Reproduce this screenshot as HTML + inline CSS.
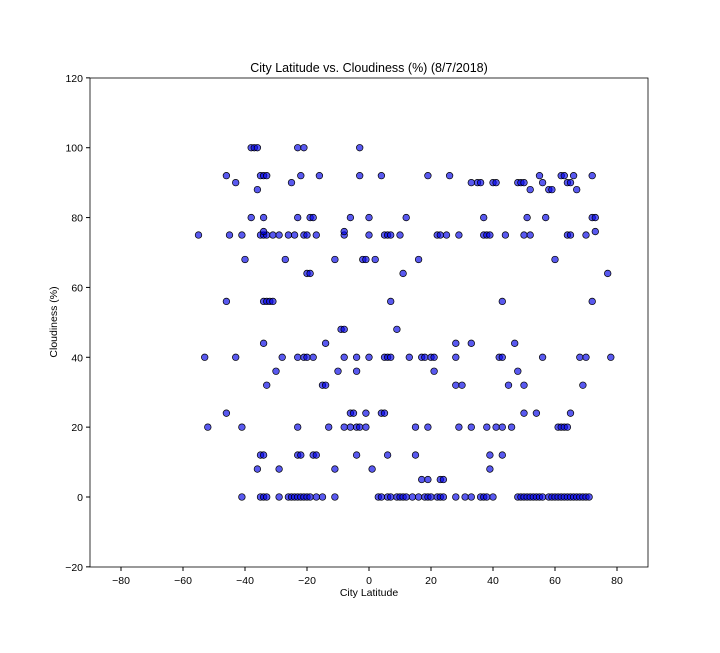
<!DOCTYPE html>
<html><head><meta charset="utf-8"><style>
body{margin:0;background:#fff;font-family:"Liberation Sans",sans-serif}
</style></head><body>
<svg id="chart" width="720" height="648" xmlns="http://www.w3.org/2000/svg" font-family="Liberation Sans, sans-serif">
<rect width="720" height="648" fill="#fff"/>
<text x="369" y="72" text-anchor="middle" font-size="12.5">City Latitude vs. Cloudiness (%) (8/7/2018)</text>
<g id="xt"></g>
<g id="yt"></g>
<g id="pts"></g>
<rect x="90" y="78" width="558" height="489" fill="none" stroke="#000" stroke-width="0.8"/>
<text x="369" y="596" text-anchor="middle" font-size="10.5">City Latitude</text>
<text transform="translate(57,322) rotate(-90)" text-anchor="middle" font-size="10.5">Cloudiness (%)</text>
</svg>
<script>
const xTicks=[-80,-60,-40,-20,0,20,40,60,80];
const yTicks=[-20,0,20,40,60,80,100,120];
const rows=[
[0,[-41,-35,-34,-33,-29,-26,-25,-24,-23,-22,-21,-20,-19,-17,-15,-11,3,4,6,7,9,10,11,12,14,16,18,19,20,22,23,24,28,31,33,36,37,38,40,48,49,50,51,52,53,54,55,56,58,59,60,61,62,63,64,65,66,67,68,69,70,71]],
[5,[17,19,23,24]],
[8,[-36,-29,-11,1,39]],
[12,[-35,-34,-23,-22,-18,-17,-4,6,15,39,43]],
[20,[-52,-41,-23,-13,-8,-6,-4,-3,-1,15,19,29,33,38,41,43,46,61,62,63,64]],
[24,[-46,-6,-5,4,5,-1,50,54,65]],
[32,[-33,-15,-14,28,30,45,50,69]],
[36,[-30,-10,-4,21,48]],
[40,[-53,-43,-28,-23,-21,-20,-18,-8,-4,0,5,6,7,13,17,18,20,21,28,42,43,56,68,70,78]],
[44,[-34,-14,28,33,47]],
[48,[-9,-8,9]],
[56,[-46,-34,-33,-32,-31,7,43,72]],
[64,[-20,-19,11,77]],
[68,[-40,-27,-11,-2,-1,2,16,60]],
[75,[-55,-45,-41,-35,-34,-33,-31,-29,-26,-24,-21,-20,-17,-8,0,5,6,7,10,22,23,25,29,37,38,39,44,50,52,64,65,70]],
[76,[-8,-34,73]],
[80,[-38,-34,-23,-19,-18,-6,0,12,37,51,57,72,73]],
[88,[-36,52,58,59,67]],
[90,[-43,-25,33,35,36,40,41,48,49,50,56,64,65]],
[92,[-46,-35,-34,-33,-22,-16,-3,4,19,26,55,62,63,66,72]],
[100,[-38,-37,-36,-23,-21,-3]]
];
const lats=[],clouds=[];
rows.forEach(r=>r[1].forEach(l=>{lats.push(l);clouds.push(r[0]);}));
const X=v=>369+v*3.1, Y=v=>497-v*(489/140);
const NS="http://www.w3.org/2000/svg";
const xt=document.getElementById('xt'),yt=document.getElementById('yt'),pts=document.getElementById('pts');
function mk(tag,at,p){const e=document.createElementNS(NS,tag);for(const k in at)e.setAttribute(k,at[k]);p.appendChild(e);return e;}
xTicks.forEach(t=>{
 const l=mk('line',{x1:X(t),x2:X(t),y1:567,y2:571,stroke:'#000'},xt);
 
 
 const s=mk('text',{x:X(t),y:584,'text-anchor':'middle','font-size':'10.5'},xt);
 s.textContent=t<0?'\u2212'+(-t):t;
 
 
});
yTicks.forEach(t=>{
 const l=mk('line',{x1:86,x2:90,y1:Y(t),y2:Y(t),stroke:'#000'},yt);
 
 
 const s=mk('text',{x:83,y:Y(t)+4,'text-anchor':'end','font-size':'10.5'},yt);
 s.textContent=t<0?'\u2212'+(-t):t;
 
 
});
lats.forEach((l,i)=>{
 const c=mk('circle',{cx:X(l),cy:Y(clouds[i]),r:3.3,fill:'rgba(0,0,230,0.65)',stroke:'#000','stroke-width':0.7},pts);
 
 
});
</script>
</body></html>
